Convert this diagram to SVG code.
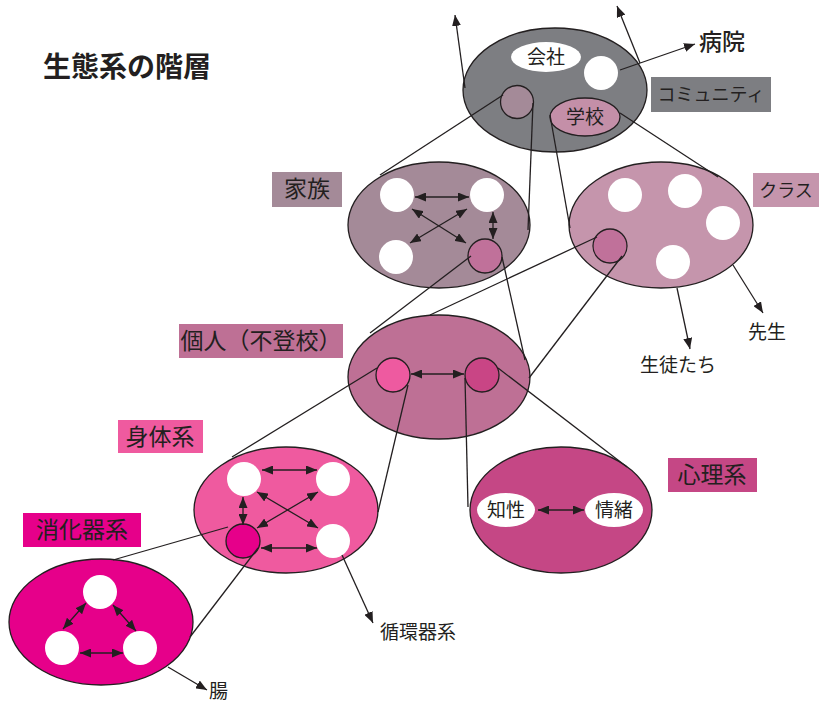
<svg xmlns="http://www.w3.org/2000/svg" width="819" height="704" viewBox="0 0 819 704">
<style>
text{font-family:"Noto Sans CJK JP","Noto Sans CJK SC",sans-serif;fill:#231f20}
.lbl{font-size:23px}
.sm{font-size:19px}
.ol{stroke:#231f20;stroke-width:1.3}
.w{fill:#fff}
.c{stroke:#231f20;stroke-width:1.3;fill:none}
.a{marker-end:url(#ah)}
.d{marker-start:url(#ah);marker-end:url(#ah)}
</style>
<defs>
<marker id="ah" viewBox="0 0 11 9" refX="11" refY="4.5" markerWidth="11" markerHeight="9" markerUnits="userSpaceOnUse" orient="auto-start-reverse">
<path d="M0,0 L11,4.5 L0,9 z" fill="#231f20"/>
</marker>
</defs>
<rect width="819" height="704" fill="#fff"/>
<text x="43" y="77" style="font-size:28px;font-weight:bold">生態系の階層</text>

<g id="community">
<ellipse cx="555" cy="90" rx="92" ry="62" fill="#7d7e82" class="ol"/>
<ellipse cx="546" cy="57" rx="35" ry="15" class="w"/>
<text x="546" y="64" class="sm" text-anchor="middle">会社</text>
<circle cx="601" cy="73" r="17" class="w"/>
<circle cx="517" cy="102" r="16.5" fill="#a48a98" class="ol"/>
<ellipse cx="585" cy="117" rx="35" ry="19" fill="#c48fa8" class="ol"/>
<text x="585" y="124" class="sm" text-anchor="middle">学校</text>
<rect x="651" y="77" width="120" height="35" fill="#7d7e82"/>
<text x="711" y="101" style="font-size:18px" text-anchor="middle">コミュニティ</text>
<text x="699" y="50" style="font-size:23px;font-weight:500">病院</text>
</g>

<g id="family">
<ellipse cx="439" cy="225" rx="91" ry="63" fill="#a48a98" class="ol"/>
<circle cx="397" cy="195" r="17" class="w"/>
<circle cx="487" cy="195" r="17" class="w"/>
<circle cx="396" cy="257" r="17" class="w"/>
<circle cx="485" cy="256" r="17" fill="#c0719a" class="ol"/>
<rect x="272" y="172" width="70" height="35" fill="#a48a98"/>
<text x="307" y="197" class="lbl" text-anchor="middle">家族</text>
</g>

<g id="class">
<ellipse cx="661" cy="225" rx="92" ry="63" fill="#c595ac" class="ol"/>
<circle cx="625" cy="195" r="17" class="w"/>
<circle cx="685" cy="191" r="17" class="w"/>
<circle cx="723" cy="223" r="17" class="w"/>
<circle cx="673" cy="262" r="17" class="w"/>
<circle cx="610" cy="246" r="17" fill="#c0719a" class="ol"/>
<rect x="753" y="173" width="66" height="34" fill="#c595ac"/>
<text x="786" y="197" style="font-size:18px" text-anchor="middle">クラス</text>
<text x="678" y="372" class="sm" text-anchor="middle">生徒たち</text>
<text x="767" y="339" class="sm" text-anchor="middle">先生</text>
</g>

<g id="individual">
<ellipse cx="439" cy="377" rx="91" ry="62" fill="#be7095" class="ol"/>
<circle cx="393" cy="375" r="17" fill="#ee5aa0" class="ol"/>
<circle cx="482" cy="375" r="17" fill="#c94585" class="ol"/>
<rect x="179" y="324" width="164" height="34" fill="#be7095"/>
<text x="261" y="349" class="lbl" text-anchor="middle">個人（不登校）</text>
</g>

<g id="body">
<ellipse cx="286" cy="510" rx="92" ry="63" fill="#ef5a9f" class="ol"/>
<circle cx="244" cy="479" r="17" class="w"/>
<circle cx="333" cy="479" r="17" class="w"/>
<circle cx="333" cy="541" r="17" class="w"/>
<circle cx="243" cy="541" r="17" fill="#e6008a" class="ol"/>
<rect x="118" y="420" width="85" height="33" fill="#ef5a9f"/>
<text x="160" y="445" class="lbl" text-anchor="middle">身体系</text>
<text x="380" y="639" class="sm">循環器系</text>
</g>

<g id="psyche">
<ellipse cx="561" cy="510" rx="91" ry="63" fill="#c54785" class="ol"/>
<ellipse cx="506" cy="510" rx="29" ry="17" class="w"/>
<text x="506" y="517" class="sm" text-anchor="middle">知性</text>
<ellipse cx="614" cy="510" rx="29" ry="17" class="w"/>
<text x="614" y="517" class="sm" text-anchor="middle">情緒</text>
<rect x="668" y="458" width="89" height="34" fill="#c54785"/>
<text x="712" y="483" class="lbl" text-anchor="middle">心理系</text>
</g>

<g id="digestive">
<ellipse cx="101" cy="622" rx="92" ry="63" fill="#e6008a" class="ol"/>
<circle cx="100" cy="592" r="17" class="w"/>
<circle cx="62" cy="648" r="17" class="w"/>
<circle cx="140" cy="648" r="17" class="w"/>
<rect x="23" y="513" width="118" height="34" fill="#e6008a"/>
<text x="82" y="538" class="lbl" text-anchor="middle">消化器系</text>
<text x="209" y="698" class="sm">腸</text>
</g>

<g id="connectors">
<line x1="465" y1="88" x2="455" y2="15" class="c a"/>
<line x1="640" y1="63" x2="617" y2="6" class="c a"/>
<line x1="620" y1="70" x2="695" y2="44" class="c a"/>
<line x1="503" y1="95" x2="380" y2="175" class="c"/>
<line x1="533" y1="103" x2="528" y2="230" class="c"/>
<line x1="550" y1="115" x2="570" y2="228" class="c"/>
<line x1="620" y1="113" x2="718" y2="177" class="c"/>
<line x1="415" y1="197" x2="469" y2="197" class="c d"/>
<line x1="412" y1="209" x2="466" y2="243" class="c d"/>
<line x1="467" y1="209" x2="410" y2="243" class="c d"/>
<line x1="493" y1="212" x2="493" y2="239" class="c d"/>
<line x1="471" y1="256" x2="370" y2="333" class="c"/>
<line x1="502" y1="257" x2="525" y2="360" class="c"/>
<line x1="597" y1="237" x2="430" y2="315" class="c"/>
<line x1="622" y1="256" x2="529" y2="378" class="c"/>
<line x1="677" y1="288" x2="690" y2="349" class="c a"/>
<line x1="733" y1="265" x2="763" y2="313" class="c a"/>
<line x1="411" y1="374" x2="464" y2="374" class="c d"/>
<line x1="377" y1="368" x2="232" y2="457" class="c"/>
<line x1="408" y1="385" x2="378" y2="512" class="c"/>
<line x1="465" y1="378" x2="468" y2="507" class="c"/>
<line x1="498" y1="368" x2="627" y2="467" class="c"/>
<line x1="538" y1="510" x2="584" y2="510" class="c d"/>
<line x1="262" y1="470" x2="317" y2="470" class="c d"/>
<line x1="261" y1="548" x2="317" y2="548" class="c d"/>
<line x1="243" y1="497" x2="243" y2="525" class="c d"/>
<line x1="257" y1="492" x2="318" y2="528" class="c d"/>
<line x1="318" y1="492" x2="257" y2="528" class="c d"/>
<line x1="342" y1="555" x2="373" y2="623" class="c a"/>
<line x1="228" y1="527" x2="113" y2="560" class="c"/>
<line x1="258" y1="548" x2="190" y2="637" class="c"/>
<line x1="80" y1="653" x2="123" y2="653" class="c d"/>
<line x1="86" y1="603" x2="63" y2="629" class="c d"/>
<line x1="113" y1="605" x2="136" y2="631" class="c d"/>
<line x1="168" y1="667" x2="207" y2="690" class="c a"/>
</g>
</svg>
